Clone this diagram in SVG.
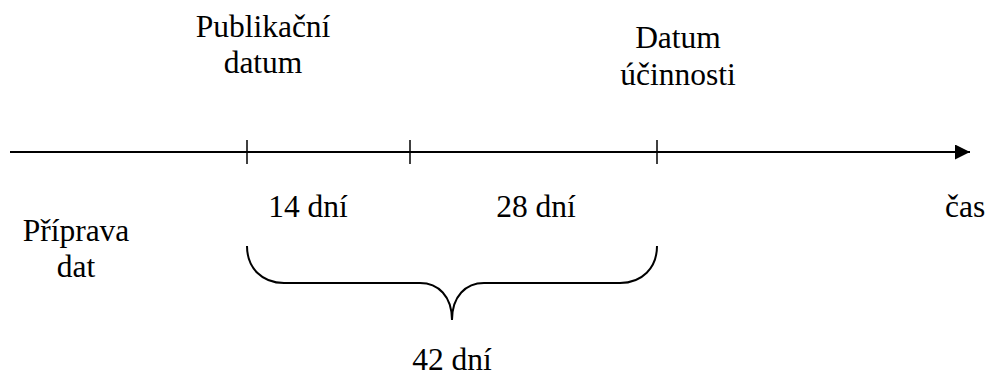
<svg xmlns="http://www.w3.org/2000/svg" width="987" height="380" viewBox="0 0 987 380">
  <style>
    .ln { fill: none; stroke: #000; stroke-width: 2; }
    .tk { fill: none; stroke: #000; stroke-width: 1.5; }
    .t { font-family: 'Liberation Serif', 'Times New Roman', serif; font-size: 31.5px; fill: #000; }
    .c { text-anchor: middle; }
  </style>
  <defs>
    <marker id="arrow" viewBox="0 0 10 10" refX="10" refY="5" markerWidth="7.5" markerHeight="7.5" markerUnits="strokeWidth" orient="auto">
      <path d="M0,0 L10,5 L0,10 z" fill="#000"/>
    </marker>
  </defs>

  <!-- time axis with tick marks -->
  <g id="connectors">
    <line class="ln" x1="10" y1="152" x2="970" y2="152" marker-end="url(#arrow)"/>
    <line class="tk" x1="247" y1="140" x2="247" y2="164"/>
    <line class="tk" x1="410" y1="140" x2="410" y2="164"/>
    <line class="tk" x1="657" y1="140" x2="657" y2="164"/>
    <!-- curly brace spanning the 42-day interval -->
    <path class="ln" d="M247,246 C247,268 262,283 284,283 L420,283 C438,283 452,296 452,320 C452,296 466,283 484,283 L620,283 C642,283 657,268 657,246"/>
  </g>

  <g id="publikacni-datum">
    <text class="t c" x="263" y="37">Publikační</text>
    <text class="t c" x="263" y="73">datum</text>
  </g>
  <g id="datum-ucinnosti">
    <text class="t c" x="678" y="48">Datum</text>
    <text class="t c" x="678" y="85">účinnosti</text>
  </g>
  <g id="priprava-dat">
    <text class="t c" x="76" y="241">Příprava</text>
    <text class="t c" x="76" y="277">dat</text>
  </g>
  <g id="interval-14">
    <text class="t c" x="308" y="217">14 dní</text>
  </g>
  <g id="interval-28">
    <text class="t c" x="536" y="217">28 dní</text>
  </g>
  <g id="cas">
    <text class="t" x="945" y="217">čas</text>
  </g>
  <g id="interval-42">
    <text class="t c" x="452" y="370">42 dní</text>
  </g>
</svg>
